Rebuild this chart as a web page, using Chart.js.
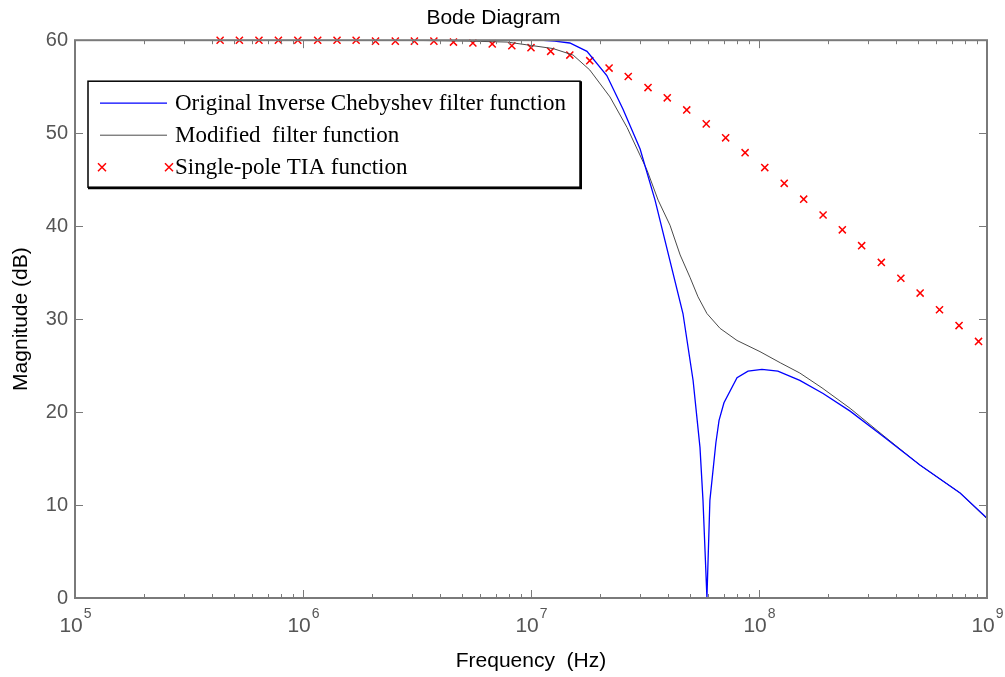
<!DOCTYPE html>
<html>
<head>
<meta charset="utf-8">
<script src="https://cdn.jsdelivr.net/npm/chart.js@4.4.0/dist/chart.umd.min.js"></script>
<style>
    html, body { margin: 0; padding: 0; background: #fff; }
</style>
</head>
<body>
<canvas id="bode" width="1005" height="677"></canvas>
<script>
// Eredeti inverz Csebisev szűrő (Hz, dB)
const origFreq = [1e5, 1e6, 1.09e7, 1.27e7, 1.48e7, 1.76e7, 2.15e7, 2.53e7, 3.01e7, 3.5e7, 4.64e7, 5.14e7, 5.51e7, 5.68e7, 5.8e7, 5.91e7,
    6.09e7, 6.47e7, 6.68e7, 7.02e7, 8.01e7, 8.95e7, 1.03e8, 1.21e8, 1.51e8, 1.91e8, 2.51e8, 3.5e8, 5.08e8, 7.62e8, 1e9];
const origMag = [60, 60, 60, 59.9, 59.7, 58.8, 56.2, 52.6, 48.3, 42.8, 30.6, 23.4, 16.2, 10.5, 5, 0,
    10.5, 16.7, 19.1, 21.0, 23.7, 24.4, 24.6, 24.4, 23.4, 22.0, 20.1, 17.4, 14.3, 11.3, 8.6];

// Módosított szűrő
const modFreq = [1e5, 2.66e6, 5.4e6, 7.85e6, 9.6e6, 1.25e7, 1.53e7, 1.81e7, 2.22e7, 2.64e7, 3.23e7, 3.61e7, 4.07e7, 4.51e7, 4.98e7,
    5.4e7, 5.91e7, 6.75e7, 8.01e7, 1.01e8, 1.24e8, 1.51e8, 1.89e8, 2.51e8, 3.5e8, 5.08e8, 7.62e8, 1e9];
const modMag = [60, 60, 59.9, 59.8, 59.5, 59.1, 58.4, 56.8, 53.9, 50.6, 46.0, 42.8, 40.1, 36.9, 34.5,
    32.4, 30.6, 29.0, 27.7, 26.5, 25.3, 24.2, 22.6, 20.4, 17.5, 14.3, 11.3, 8.5];

// Egypólusú TIA
const tiaFreq = [4.33e5, 5.26e5, 6.41e5, 7.8e5, 9.49e5, 1.16e6, 1.41e6, 1.71e6, 2.08e6, 2.54e6, 3.08e6, 3.75e6, 4.57e6, 5.56e6,
    6.76e6, 8.24e6, 1.0e7, 1.22e7, 1.48e7, 1.81e7, 2.2e7, 2.67e7, 3.26e7, 3.96e7, 4.82e7, 5.87e7, 7.14e7, 8.69e7,
    1.06e8, 1.29e8, 1.57e8, 1.91e8, 2.32e8, 2.82e8, 3.44e8, 4.19e8, 5.09e8, 6.19e8, 7.54e8, 9.18e8];
const tiaMag = [60, 60, 60, 60, 60, 60, 60, 60, 59.9, 59.9, 59.9, 59.9, 59.8, 59.7,
    59.6, 59.4, 59.2, 58.8, 58.4, 57.8, 57.0, 56.1, 54.9, 53.8, 52.5, 51.0, 49.5, 47.9,
    46.3, 44.6, 42.9, 41.2, 39.6, 37.9, 36.1, 34.4, 32.8, 31.0, 29.3, 27.6];

const decades = [5, 6, 7, 8, 9];
const magTicks = [0, 10, 20, 30, 40, 50, 60];

const toPoints = (xs, ys) => xs.map((x, i) => ({ x: x, y: ys[i] }));

const axisGray = '#7a7a7a';
const sans = '"Liberation Sans", Arial, sans-serif';

// MATLAB-szerű keret, befelé álló osztások, 10^n feliratok és jelmagyarázat
const bodeDecor = {
    id: 'bodeDecor',
    afterDraw(chart) {
        const ctx = chart.ctx;
        const a = chart.chartArea;
        const xs = chart.scales.x;
        const ys = chart.scales.y;
        ctx.save();

        ctx.strokeStyle = axisGray;
        ctx.lineWidth = 1;
        ctx.beginPath();
        decades.forEach(d => {
            for (let m = 1; m < 10; m++) {
                const v = m * Math.pow(10, d);
                if (v > 1e9) break;
                const px = Math.round(xs.getPixelForValue(v)) + 0.5;
                const len = m === 1 ? 8 : 4;
                ctx.moveTo(px, a.bottom); ctx.lineTo(px, a.bottom - len);
                ctx.moveTo(px, a.top); ctx.lineTo(px, a.top + len);
            }
        });
        magTicks.forEach(t => {
            const py = Math.round(ys.getPixelForValue(t)) + 0.5;
            ctx.moveTo(a.left, py); ctx.lineTo(a.left + 8, py);
            ctx.moveTo(a.right, py); ctx.lineTo(a.right - 8, py);
        });
        ctx.stroke();

        ctx.lineWidth = 2;
        ctx.strokeRect(a.left, a.top, a.right - a.left, a.bottom - a.top);

        // 10^n
        ctx.fillStyle = '#555';
        ctx.textBaseline = 'middle';
        ctx.textAlign = 'left';
        decades.forEach(d => {
            const px = xs.getPixelForValue(Math.pow(10, d));
            ctx.font = '21px ' + sans;
            const wBase = ctx.measureText('10').width;
            ctx.font = '14px ' + sans;
            const wExp = ctx.measureText(String(d)).width;
            const x0 = px - (wBase + wExp) / 2;
            ctx.font = '21px ' + sans;
            ctx.fillText('10', x0, a.bottom + 28);
            ctx.font = '14px ' + sans;
            ctx.fillText(String(d), x0 + wBase + 1, a.bottom + 16);
        });

        // jelmagyarázat
        const bx = a.left + 13, by = a.top + 41, bw = 492, bh = 106;
        ctx.fillStyle = '#fff';
        ctx.fillRect(bx, by, bw, bh);
        ctx.strokeStyle = '#000';
        ctx.lineWidth = 1.5;
        ctx.strokeRect(bx, by, bw, bh);
        ctx.lineWidth = 2;
        ctx.beginPath();
        ctx.moveTo(bx + bw + 1, by); ctx.lineTo(bx + bw + 1, by + bh + 1); ctx.lineTo(bx, by + bh + 1);
        ctx.stroke();

        const rows = [22, 54, 86];
        ctx.font = '23px "Liberation Serif", "Times New Roman", serif';
        ctx.textAlign = 'left';
        ctx.textBaseline = 'middle';
        chart.data.datasets.forEach((ds, i) => {
            const y = by + rows[i];
            if (ds.showLine === false) {
                [bx + 14, bx + 81].forEach(px => {
                    ctx.strokeStyle = ds.borderColor;
                    ctx.lineWidth = 1.5;
                    ctx.beginPath();
                    ctx.moveTo(px - 4, y - 4); ctx.lineTo(px + 4, y + 4);
                    ctx.moveTo(px + 4, y - 4); ctx.lineTo(px - 4, y + 4);
                    ctx.stroke();
                });
            } else {
                ctx.strokeStyle = ds.borderColor;
                ctx.lineWidth = ds.borderWidth;
                ctx.beginPath();
                ctx.moveTo(bx + 12, y); ctx.lineTo(bx + 79, y);
                ctx.stroke();
            }
            ctx.fillStyle = '#000';
            ctx.fillText(ds.label, bx + 87, y + 1);
        });

        ctx.restore();
    },
};

new Chart(document.querySelector('#bode'), {
    type: 'line',
    data: {
        datasets: [
            {
                label: 'Original Inverse Chebyshev filter function',
                data: toPoints(origFreq, origMag),
                borderColor: '#0000ff',
                borderWidth: 1.3,
                pointRadius: 0,
                tension: 0,
            },
            {
                label: 'Modified  filter function',
                data: toPoints(modFreq, modMag),
                borderColor: '#4a4a4a',
                borderWidth: 1,
                pointRadius: 0,
                tension: 0,
            },
            {
                label: 'Single-pole TIA function',
                data: toPoints(tiaFreq, tiaMag),
                showLine: false,
                pointStyle: 'crossRot',
                pointRadius: 5,
                borderColor: '#ff0000',
                backgroundColor: '#ff0000',
                borderWidth: 1.5,
                clip: 10,
            },
        ],
    },
    options: {
        responsive: false,
        animation: false,
        devicePixelRatio: 1,
        layout: { padding: { top: 0, right: 18, left: 0, bottom: 0 } },
        plugins: {
            legend: { display: false },
            tooltip: { enabled: false },
            title: {
                display: true,
                text: 'Bode Diagram',
                color: '#000',
                font: { family: sans, size: 21, weight: 'normal' },
                padding: { top: 6, bottom: 9 },
            },
        },
        scales: {
            x: {
                type: 'logarithmic',
                min: 1e5,
                max: 1e9,
                ticks: { display: false },
                grid: { drawOnChartArea: false, drawTicks: false },
                border: { display: false },
                title: {
                    display: true,
                    text: 'Frequency  (Hz)',
                    color: '#000',
                    font: { family: sans, size: 21 },
                    padding: { top: 0, bottom: 3 },
                },
                afterFit: s => { s.height = 79; },
            },
            y: {
                min: 0,
                max: 60,
                ticks: {
                    stepSize: 10,
                    color: '#555',
                    padding: 7,
                    font: { family: sans, size: 20 },
                },
                grid: { drawOnChartArea: false, drawTicks: false },
                border: { display: false },
                title: {
                    display: true,
                    text: 'Magnitude (dB)',
                    color: '#000',
                    font: { family: sans, size: 21 },
                    padding: { top: 9, bottom: 0 },
                },
                afterFit: s => { s.width = 75; },
            },
        },
    },
    plugins: [bodeDecor],
});
</script>
</body>
</html>
